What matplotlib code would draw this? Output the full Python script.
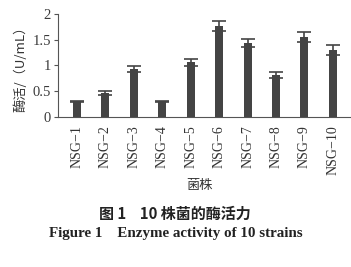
import matplotlib.pyplot as plt
import numpy as np

plt.rcParams['font.family'] = ['Liberation Serif', 'Noto Sans CJK SC']
plt.rcParams['axes.unicode_minus'] = False

strains = ['NSG−1', 'NSG−2', 'NSG−3', 'NSG−4', 'NSG−5',
           'NSG−6', 'NSG−7', 'NSG−8', 'NSG−9', 'NSG−10']
activity = [0.30, 0.47, 0.93, 0.30, 1.06, 1.77, 1.43, 0.82, 1.55, 1.30]
err = [0.01, 0.04, 0.06, 0.01, 0.07, 0.10, 0.08, 0.06, 0.09, 0.09]

fig = plt.figure(figsize=(3.51, 2.67), dpi=100)
ax = fig.add_axes([0.165, 0.562, 0.832, 0.386])

x = np.arange(len(strains))
ax.bar(x, activity, width=0.28, color='#444444',
       yerr=err, ecolor='#444444', capsize=5, error_kw={'elinewidth': 1.2, 'capthick': 1.2})

ax.set_xlim(-0.67, 9.6)
ax.set_ylim(0, 2)
ax.set_yticks([0, 0.5, 1, 1.5, 2])
ax.set_yticklabels(['0', '0.5', '1', '1.5', '2'], fontsize=10.5, color='#3a3a3a')
ax.set_xticks(x)
ax.set_xticklabels(strains, rotation=90, fontsize=10, color='#333333')
ax.tick_params(axis='x', length=0, pad=6)
ax.tick_params(axis='y', length=3, width=0.8, color='#555555', pad=2)

for s in ['top', 'right']:
    ax.spines[s].set_visible(False)
for s in ['left', 'bottom']:
    ax.spines[s].set_color('#555555')
    ax.spines[s].set_linewidth(0.8)

ax.set_ylabel('酶活/（U/mL）', fontsize=9.5, color='#333333', labelpad=4,
              family=['Noto Sans CJK SC', 'Liberation Serif'])
fig.text(0.567, 0.305, '菌株', ha='center', va='center', fontsize=9.5, color='#333333',
         family=['Noto Sans CJK SC'])

fig.text(0.498, 0.20, '图 1    10 株菌的酶活力', ha='center', va='center', fontsize=10.8,
         fontweight='bold', color='#222222', family=['Noto Sans CJK SC', 'Liberation Serif'])
fig.text(0.5, 0.125, 'Figure 1    Enzyme activity of 10 strains', ha='center', va='center',
         fontsize=10.8, fontweight='bold', color='#222222', family=['Liberation Serif'])

fig.savefig('out.png', dpi=100)
